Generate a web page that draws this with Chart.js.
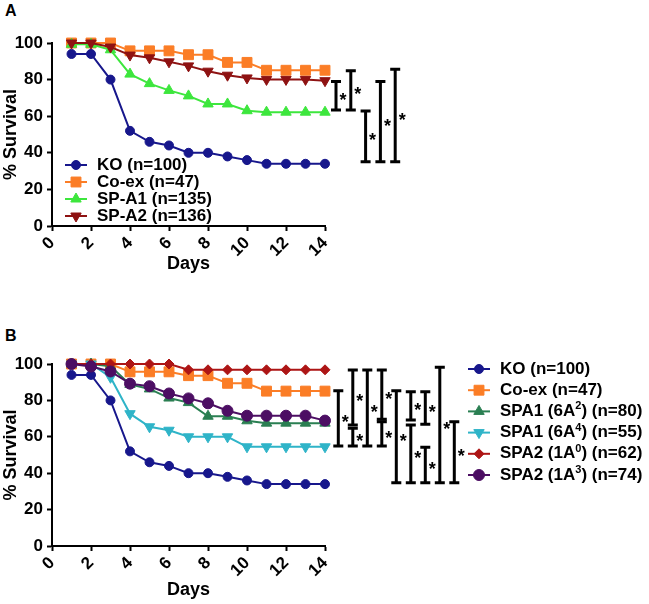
<!DOCTYPE html>
<html>
<head>
<meta charset="utf-8">
<script src="https://cdn.jsdelivr.net/npm/chart.js@4.4.1/dist/chart.umd.min.js"></script>
<style>
  html, body { margin: 0; padding: 0; background: #fff; overflow: hidden; }
  body { width: 649px; height: 604px; position: relative; font-family: 'Liberation Sans', Arial, sans-serif; }
  .panel { position: absolute; left: 0; }
  .panel canvas { display: block; }
  .tag { position: absolute; left: 5px; font-weight: bold; font-size: 16px; line-height: 1; }
</style>
</head>
<body>
<div class="tag" style="top:3px">A</div>
<div class="tag" style="top:328px">B</div>
<div class="panel" style="top:0"><canvas id="chartA" width="649" height="277"></canvas></div>
<div class="panel" style="top:298px"><canvas id="chartB" width="649" height="305"></canvas></div>
<script>
// days after infection
var days = [1, 2, 3, 4, 5, 6, 7, 8, 9, 10, 11, 12, 13, 14];

// panel A
var labelsA = ['KO (n=100)', 'Co-ex (n=47)', 'SP-A1 (n=135)', 'SP-A2 (n=136)'];
var koA    = [94, 94, 80, 52, 46, 44, 40, 40, 38, 36, 34, 34, 34, 34];
var coexA  = [100, 100, 100, 95.7, 95.7, 95.7, 93.6, 93.6, 89.4, 89.4, 85.1, 85.1, 85.1, 85.1];
var spa1A  = [99.3, 99.3, 96.3, 83, 77.8, 74.1, 71.1, 66.7, 66.7, 63, 62.2, 62.2, 62.2, 62.2];
var spa2A  = [100, 100, 97.8, 93.4, 91.9, 89.7, 87.5, 84.6, 82.4, 80.9, 80.1, 80.1, 80.1, 79.4];

// panel B
var labelsB = ['KO (n=100)', 'Co-ex (n=47)', 'SPA1 (6A^2) (n=80)', 'SPA1 (6A^4) (n=55)', 'SPA2 (1A^0) (n=62)', 'SPA2 (1A^3) (n=74)'];
var koB    = [94, 94, 80, 52, 46, 44, 40, 40, 38, 36, 34, 34, 34, 34];
var coexB  = [100, 100, 100, 95.7, 95.7, 95.7, 93.6, 93.6, 89.4, 89.4, 85.1, 85.1, 85.1, 85.1];
var a6A2   = [100, 100, 98.8, 88.8, 86.3, 81.3, 78.8, 71.3, 71.3, 68.8, 67.5, 67.5, 67.5, 67.5];
var a6A4   = [100, 100, 92.7, 72.7, 65.5, 63.6, 60, 60, 60, 54.5, 54.5, 54.5, 54.5, 54.5];
var a1A0   = [100, 100, 100, 100, 100, 100, 96.8, 96.8, 96.8, 96.8, 96.8, 96.8, 96.8, 96.8];
var a1A3   = [100, 98.6, 95.9, 89.2, 87.8, 83.8, 81.1, 78.4, 74.3, 71.6, 71.6, 71.6, 71.6, 68.9];

// significance brackets: column, top value, bottom value
var bracketColsA    = [0, 1, 2, 3, 4];
var bracketTopsA    = [78.9, 84.9, 62.8, 78.9, 85.6];
var bracketBottomsA = [63.4, 63.4, 35.1, 35.1, 35.1];

var bracketColsB    = [0, 1, 1, 2, 3, 3, 4, 5, 5, 6, 6, 7, 8];
var bracketTopsB    = [85.3, 96.7, 64.7, 96.7, 96.7, 68.3, 85.3, 84.8, 66.5, 84.8, 54.2, 98.2, 68.3];
var bracketBottomsB = [54.9, 66.5, 54.9, 54.9, 69.6, 54.9, 34.8, 69.2, 34.8, 66.9, 34.8, 34.8, 34.8];

var FONT = "'Liberation Sans', Arial, sans-serif";

function drawLabel(ctx, text, x, y) {
  var parts = text.split(/\^(\d)/);
  ctx.textAlign = 'left';
  ctx.textBaseline = 'middle';
  ctx.fillStyle = '#000';
  parts.forEach(function (p, k) {
    var sup = k % 2 === 1;
    ctx.font = sup ? 'bold 11px ' + FONT : 'bold 17px ' + FONT;
    ctx.fillText(p, x, sup ? y - 5 : y);
    x += ctx.measureText(p).width;
  });
}

var overlayPlugin = {
  id: 'overlay',
  afterDraw: function (chart, args, opts) {
    var ctx = chart.ctx;
    var yScale = chart.scales.y;
    var area = chart.chartArea;
    ctx.save();

    // brackets with asterisks
    ctx.strokeStyle = '#000';
    ctx.fillStyle = '#000';
    ctx.lineWidth = 3;
    ctx.textAlign = 'center';
    ctx.textBaseline = 'middle';
    ctx.font = 'bold 18px ' + FONT;
    opts.cols.forEach(function (col, i) {
      var x = area.right + opts.start + col * opts.step;
      var y1 = yScale.getPixelForValue(opts.tops[i]);
      var y2 = yScale.getPixelForValue(opts.bottoms[i]);
      ctx.beginPath();
      ctx.moveTo(x, y1); ctx.lineTo(x, y2);
      ctx.moveTo(x - 5, y1); ctx.lineTo(x + 5, y1);
      ctx.moveTo(x - 5, y2); ctx.lineTo(x + 5, y2);
      ctx.stroke();
      ctx.fillText('*', x + 7, (y1 + y2) / 2 + 5);
    });

    // legend
    var lg = opts.legend;
    chart.data.datasets.forEach(function (ds, i) {
      var cy = lg.y + i * lg.step;
      ctx.strokeStyle = ds.borderColor;
      ctx.fillStyle = ds.borderColor;
      ctx.lineWidth = 2;
      ctx.beginPath();
      ctx.moveTo(lg.x, cy); ctx.lineTo(lg.x + 22, cy);
      ctx.stroke();
      ctx.lineWidth = 1;
      Chart.helpers.drawPoint(ctx, {
        pointStyle: ds.pointStyle,
        radius: ds.pointRadius,
        rotation: ds.pointRotation || 0,
        borderWidth: 1
      }, lg.x + 11, cy);
      drawLabel(ctx, ds.label, lg.x + 32, cy);
    });
    ctx.restore();
  }
};

function series(label, values, color, style, radius, rotation, i) {
  return {
    label: label,
    data: days.map(function (d, k) { return { x: d, y: values[k] }; }),
    borderColor: color,
    backgroundColor: color,
    borderWidth: 2,
    pointStyle: style,
    pointRadius: radius,
    pointRotation: rotation,
    pointBorderWidth: 1,
    pointBackgroundColor: color,
    pointBorderColor: color,
    tension: 0,
    clip: false,
    order: -i
  };
}

function makeOptions(top, xHeight, overlay) {
  var tickFont = { family: FONT, size: 17, weight: 'bold' };
  var titleFont = { family: FONT, size: 18, weight: 'bold' };
  return {
    responsive: false,
    animation: false,
    layout: { padding: { left: 0, right: 324, top: top, bottom: 0 }, autoPadding: false },
    plugins: {
      legend: { display: false },
      tooltip: { enabled: false },
      overlay: overlay
    },
    scales: {
      x: {
        type: 'linear', min: 0, max: 14,
        ticks: { stepSize: 2, minRotation: 45, maxRotation: 45, color: '#000', font: tickFont, padding: 2 },
        grid: { drawOnChartArea: false, tickLength: 5, tickWidth: 2, tickColor: '#000' },
        border: { color: '#000', width: 2 },
        title: { display: true, text: 'Days', color: '#000', font: titleFont, padding: { top: 0, bottom: 2 } },
        afterFit: function (s) { s.height = xHeight; }
      },
      y: {
        min: 0, max: 100,
        ticks: { stepSize: 20, color: '#000', font: tickFont, padding: 4 },
        grid: { drawOnChartArea: false, tickLength: 5, tickWidth: 2, tickColor: '#000' },
        border: { color: '#000', width: 2 },
        title: { display: true, text: '% Survival', color: '#000', font: titleFont, padding: { top: 0, bottom: 0 } },
        afterFit: function (s) { s.width = 52; }
      }
    }
  };
}

new Chart(document.getElementById('chartA'), {
  type: 'line',
  data: {
    datasets: [
      series(labelsA[0], koA, '#17178c', 'circle', 4.5, 0, 0),
      series(labelsA[1], coexA, '#fb7d26', 'rect', 7, 0, 1),
      series(labelsA[2], spa1A, '#3de63d', 'triangle', 6, 0, 2),
      series(labelsA[3], spa2A, '#8e1212', 'triangle', 6, 180, 3)
    ]
  },
  options: makeOptions(43, 51, {
    cols: bracketColsA, tops: bracketTopsA, bottoms: bracketBottomsA,
    start: 11, step: 14.8,
    legend: { x: 65, y: 165, step: 17 }
  }),
  plugins: [overlayPlugin]
});

new Chart(document.getElementById('chartB'), {
  type: 'line',
  data: {
    datasets: [
      series(labelsB[0], koB, '#17178c', 'circle', 4.5, 0, 0),
      series(labelsB[1], coexB, '#fb7d26', 'rect', 7, 0, 1),
      series(labelsB[2], a6A2, '#2a7f52', 'triangle', 6, 0, 2),
      series(labelsB[3], a6A4, '#2fb4c8', 'triangle', 6, 180, 3),
      series(labelsB[4], a1A0, '#ad1515', 'rectRot', 5, 0, 4),
      series(labelsB[5], a1A3, '#4c0e63', 'circle', 5.5, 0, 5)
    ]
  },
  options: makeOptions(66, 57, {
    cols: bracketColsB, tops: bracketTopsB, bottoms: bracketBottomsB,
    start: 13.3, step: 14.5,
    legend: { x: 468, y: 71, step: 21.2 }
  }),
  plugins: [overlayPlugin]
});
</script>
</body>
</html>
